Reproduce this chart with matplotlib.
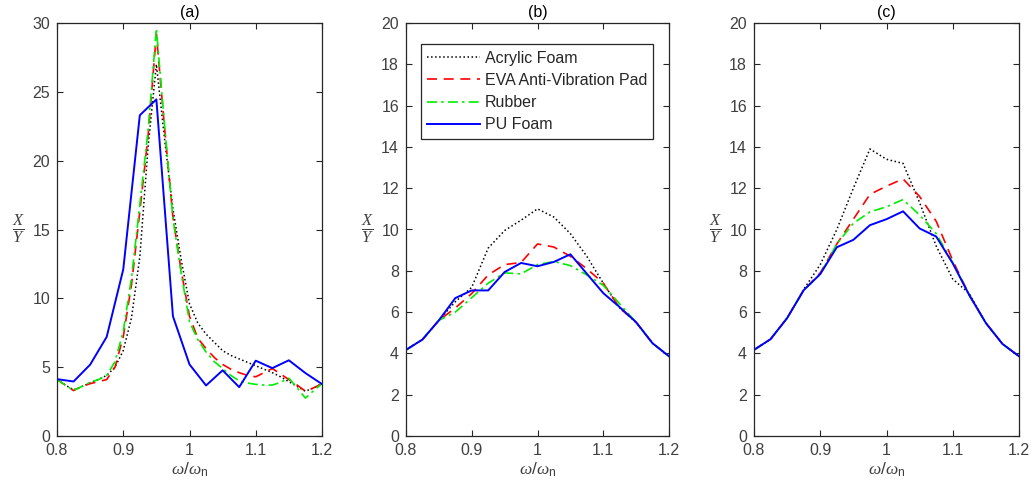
import numpy as np
import matplotlib
matplotlib.use('Agg')
import matplotlib.pyplot as plt

# frequency ratio grids
w_coarse = [0.8, 0.825, 0.85, 0.875, 0.9, 0.925, 0.95, 0.975, 1.0,
            1.025, 1.05, 1.075, 1.1, 1.125, 1.15, 1.175, 1.2]
w_fine = [0.8, 0.8125, 0.825, 0.8375, 0.85, 0.8625, 0.875, 0.8875, 0.9,
          0.9125, 0.925, 0.9375, 0.95, 0.9625, 0.975, 0.9875, 1.0,
          1.0125, 1.025, 1.0375, 1.05, 1.0625, 1.075, 1.0875, 1.1,
          1.1125, 1.125, 1.1375, 1.15, 1.1625, 1.175, 1.1875, 1.2]

labels = ['Acrylic Foam', 'EVA Anti-Vibration Pad', 'Rubber', 'PU Foam']

# (a)
a_acryl = [4.1, 3.7, 3.35, 3.6, 3.85, 4.1, 4.4, 5.0, 6.2, 8.6, 13.0, 21.0, 27.0,
           21.5, 16.5, 12.8, 9.6, 8.2, 7.4, 6.8, 6.2, 5.85, 5.6, 5.35, 5.1,
           4.85, 4.6, 4.3, 3.95, 3.6, 3.25, 3.5, 3.8]
a_eva = [4.1, 3.7, 3.3, 3.6, 3.8, 3.95, 4.1, 5.0, 7.2, 11.0, 16.3, 21.8, 29.2,
         22.3, 15.9, 12.0, 8.7, 7.1, 6.35, 5.7, 5.2, 4.85, 4.6, 4.4, 4.3,
         4.6, 4.9, 4.5, 4.1, 3.7, 3.25, 3.5, 3.8]
a_rub = [4.1, 3.7, 3.3, 3.6, 3.9, 4.1, 4.4, 5.4, 7.6, 11.5, 16.8, 22.2, 29.6,
         22.5, 15.8, 11.8, 8.3, 7.0, 6.1, 5.4, 4.9, 4.4, 4.0, 3.85, 3.75,
         3.7, 3.7, 3.9, 4.2, 3.5, 2.75, 3.3, 3.8]
a_pu = [4.13, 3.96, 5.18, 7.2, 12.1, 23.3, 24.45, 8.7, 5.2, 3.67, 4.77, 3.55,
        5.47, 4.93, 5.5, 4.57, 3.77]

# (b)
b_acryl = [4.17, 4.67, 5.6, 6.5, 7.2, 9.1, 9.95, 10.45, 11.0, 10.6, 9.8, 8.7,
           7.4, 6.2, 5.5, 4.49, 3.86]
b_eva = [4.17, 4.67, 5.6, 6.2, 6.9, 7.8, 8.3, 8.4, 9.3, 9.15, 8.7, 8.1, 7.4,
         6.2, 5.5, 4.49, 3.86]
b_rub = [4.17, 4.67, 5.6, 6.0, 6.7, 7.4, 7.9, 7.85, 8.3, 8.45, 8.25, 7.8, 7.3,
         6.4, 5.5, 4.49, 3.86]
b_pu = [4.17, 4.67, 5.6, 6.68, 7.05, 7.05, 7.94, 8.38, 8.22, 8.43, 8.8, 7.86,
        6.92, 6.24, 5.51, 4.49, 3.86]

# (c)
c_acryl = [4.17, 4.69, 5.71, 7.1, 8.3, 10.0, 12.0, 13.9, 13.4, 13.2, 11.3, 9.2,
           7.6, 6.9, 5.47, 4.46, 3.86]
c_eva = [4.17, 4.69, 5.71, 7.06, 7.9, 9.3, 10.5, 11.7, 12.1, 12.45, 11.6, 10.4,
         8.5, 6.82, 5.47, 4.46, 3.86]
c_rub = [4.17, 4.69, 5.71, 7.06, 7.84, 9.3, 10.3, 10.85, 11.1, 11.45, 10.7, 9.8,
         8.4, 6.82, 5.47, 4.46, 3.86]
c_pu = [4.17, 4.69, 5.71, 7.06, 7.84, 9.14, 9.5, 10.21, 10.5, 10.88, 10.05,
        9.66, 8.36, 6.82, 5.47, 4.46, 3.86]

estilos = [dict(color='k', ls=':', lw=1.1),
           dict(color='#ff0000', ls=(0, (6, 4)), lw=1.2),
           dict(color='#00ee00', ls=(0, (6, 2.5, 1.5, 2.5)), lw=1.2),
           dict(color='#0000ff', ls='-', lw=1.4)]

paneles = [
    ('(a)', [w_fine, w_fine, w_fine, w_coarse], [a_acryl, a_eva, a_rub, a_pu], 30, 5),
    ('(b)', [w_coarse] * 4, [b_acryl, b_eva, b_rub, b_pu], 20, 2),
    ('(c)', [w_coarse] * 4, [c_acryl, c_eva, c_rub, c_pu], 20, 2),
]

plt.rcParams['font.family'] = ['Liberation Sans', 'DejaVu Sans']
plt.rcParams['mathtext.fontset'] = 'custom'
plt.rcParams['mathtext.rm'] = 'Liberation Sans'
plt.rcParams['mathtext.sf'] = 'Liberation Sans'
plt.rcParams['mathtext.it'] = 'Liberation Serif:italic'
gris = '#262626'

fig = plt.figure(figsize=(10.33, 4.97), dpi=100)
lefts = [57, 406, 754]
rights = [322, 669, 1019]

for i, (tit, xs, ys, ymax, ystep) in enumerate(paneles):
    ax = fig.add_axes([lefts[i] / 1033, (497 - 436) / 497,
                       (rights[i] - lefts[i]) / 1033, 413 / 497])
    for x, y, st, lab in zip(xs, ys, estilos, labels):
        ax.plot(x, y, label=lab, **st)
    ax.set_xlim(0.8, 1.2)
    ax.set_ylim(0, ymax)
    ax.set_xticks([0.8, 0.9, 1.0, 1.1, 1.2])
    ax.set_xticklabels(['0.8', '0.9', '1', '1.1', '1.2'])
    ax.set_yticks(np.arange(0, ymax + 1, ystep))
    ax.tick_params(direction='in', top=True, right=True, length=4,
                   width=0.8, colors=gris, labelsize=11.5, pad=5)
    ax.tick_params(labelcolor='#404040')
    for s in ax.spines.values():
        s.set_color(gris)
        s.set_linewidth(0.9)
    ax.set_title(tit, fontsize=11.5, color='k', pad=4)
    ax.set_xlabel(r'$\omega/\omega_{\mathrm{n}}$', fontsize=12.5, color='#404040', labelpad=2)
    ax.set_ylabel(r'$\frac{X}{Y}$', fontsize=17, color='#404040', rotation=0,
                  labelpad=10, va='center')
    if i == 1:
        leg = ax.legend(loc='upper left', bbox_to_anchor=(0.056, 0.948),
                        borderaxespad=0, fancybox=False, framealpha=1,
                        edgecolor=gris, fontsize=11.5, handlelength=3.3,
                        handletextpad=0.3, labelspacing=0.45, borderpad=0.4)
        leg.get_frame().set_linewidth(0.9)
        for t in leg.get_texts():
            t.set_color(gris)

fig.savefig('out.png', dpi=100)
